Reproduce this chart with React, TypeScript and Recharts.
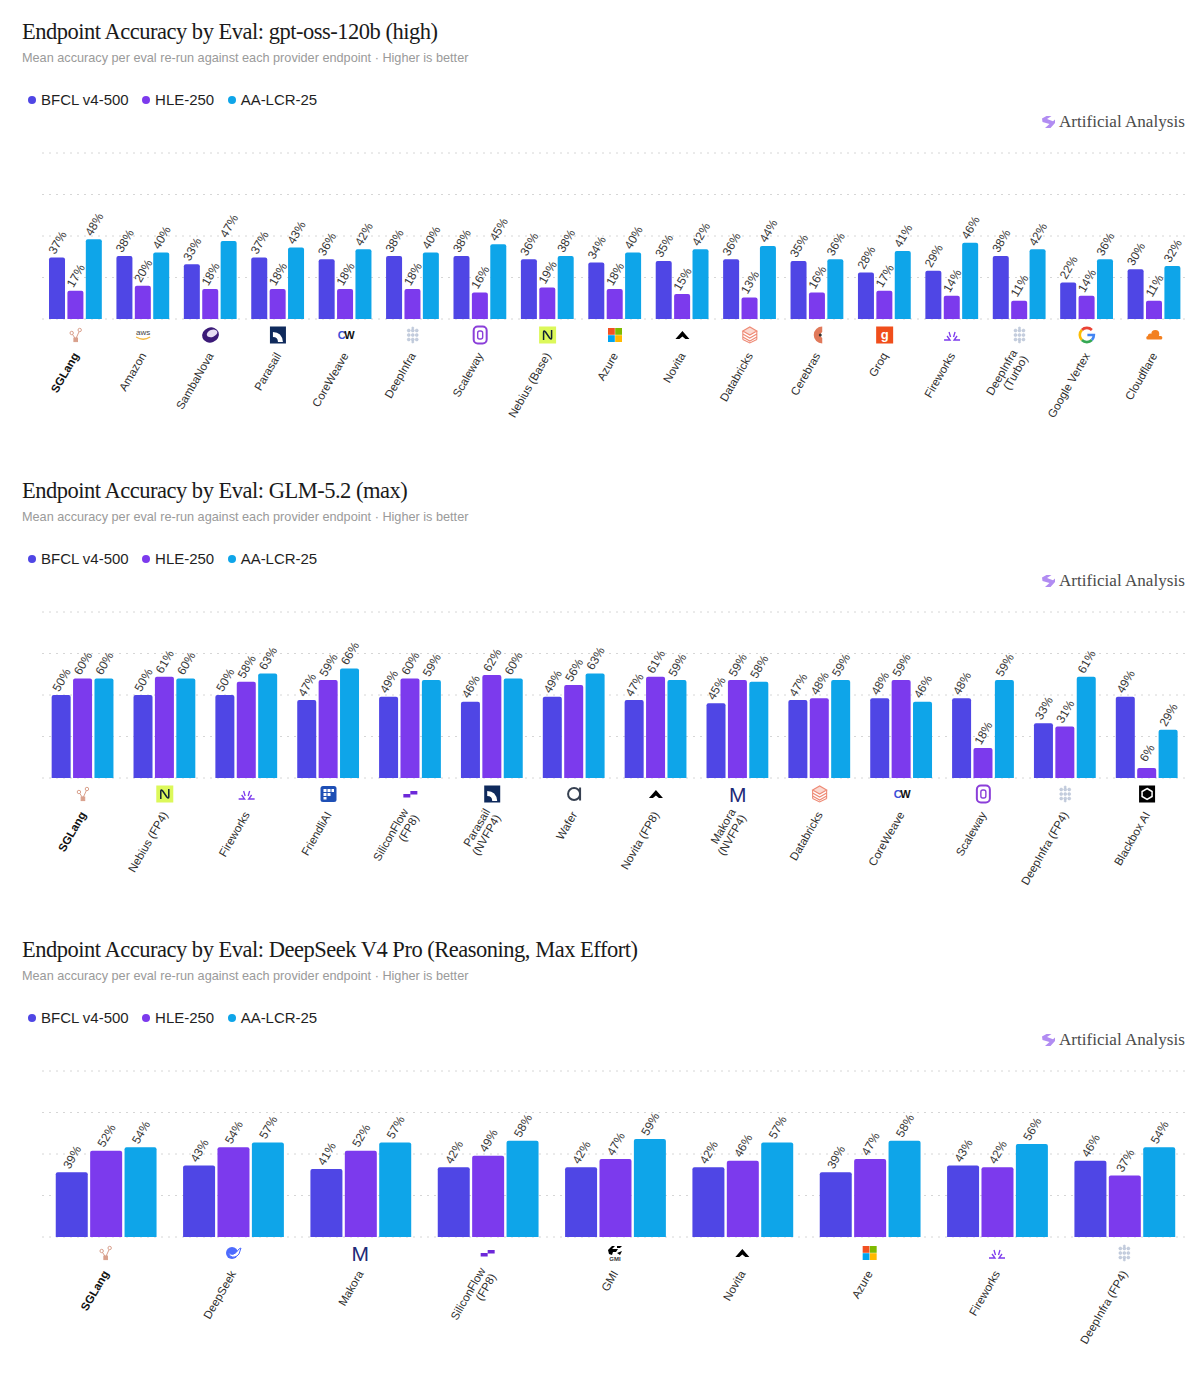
import React from "react";
import { BarChart, Bar, XAxis, YAxis, CartesianGrid, Legend, LabelList } from "recharts";

const seriesKeys = ["bfcl", "hle", "lcr"];
const seriesNames = ["BFCL v4-500", "HLE-250", "AA-LCR-25"];
const seriesColors = ["#4f46e5", "#7c3aed", "#0ea5e9"];
const yTicks = [0, 25, 50, 75, 100];

const gptTitle = "Endpoint Accuracy by Eval: gpt-oss-120b (high)";
const gptCategories = ["SGLang", "Amazon", "SambaNova", "Parasail", "CoreWeave", "DeepInfra", "Scaleway", "Nebius (Base)", "Azure", "Novita", "Databricks", "Cerebras", "Groq", "Fireworks", "DeepInfra\n(Turbo)", "Google Vertex", "Cloudflare"];
const gptLogos = ["sglang", "aws", "samba", "parasail", "coreweave", "deepinfra", "scaleway", "nebius", "azure", "novita", "databricks", "cerebras", "groq", "fireworks", "deepinfra", "google", "cloudflare"];
const gptBfcl = [37, 38, 33, 37, 36, 38, 38, 36, 34, 35, 36, 35, 28, 29, 38, 22, 30];
const gptHle = [17, 20, 18, 18, 18, 18, 16, 19, 18, 15, 13, 16, 17, 14, 11, 14, 11];
const gptLcr = [48, 40, 47, 43, 42, 40, 45, 38, 40, 42, 44, 36, 41, 46, 42, 36, 32];

const glmTitle = "Endpoint Accuracy by Eval: GLM-5.2 (max)";
const glmCategories = ["SGLang", "Nebius (FP4)", "Fireworks", "FriendliAI", "SiliconFlow\n(FP8)", "Parasail\n(NVFP4)", "Wafer", "Novita (FP8)", "Makora\n(NVFP4)", "Databricks", "CoreWeave", "Scaleway", "DeepInfra (FP4)", "Blackbox AI"];
const glmLogos = ["sglang", "nebius", "fireworks", "friendli", "silicon", "parasail", "wafer", "novita", "makora", "databricks", "coreweave", "scaleway", "deepinfra", "blackbox"];
const glmBfcl = [50, 50, 50, 47, 49, 46, 49, 47, 45, 47, 48, 48, 33, 49];
const glmHle = [60, 61, 58, 59, 60, 62, 56, 61, 59, 48, 59, 18, 31, 6];
const glmLcr = [60, 60, 63, 66, 59, 60, 63, 59, 58, 59, 46, 59, 61, 29];

const dsTitle = "Endpoint Accuracy by Eval: DeepSeek V4 Pro (Reasoning, Max Effort)";
const dsCategories = ["SGLang", "DeepSeek", "Makora", "SiliconFlow\n(FP8)", "GMI", "Novita", "Azure", "Fireworks", "DeepInfra (FP4)"];
const dsLogos = ["sglang", "deepseek", "makora", "silicon", "gmi", "novita", "azure", "fireworks", "deepinfra"];
const dsBfcl = [39, 43, 41, 42, 42, 42, 39, 43, 46];
const dsHle = [52, 54, 52, 49, 47, 46, 47, 42, 37];
const dsLcr = [54, 57, 57, 58, 59, 57, 58, 56, 54];

const SUBTITLE = "Mean accuracy per eval re-run against each provider endpoint · Higher is better";
const SANS = "'Liberation Sans', Arial, sans-serif";
const SERIF = "'Liberation Serif', serif";

function Logo({ kind }: { kind: string }) {
  switch (kind) {
    case "sglang":
      return (
        <g fill="none" stroke="#d9a08c" strokeWidth={1}>
          <circle cx={-4} cy={-2} r={1.7} />
          <circle cx={4} cy={-5} r={1.7} />
          <rect x={-1.8} y={3} width={3.6} height={3.6} fill="#d9a08c" />
          <path d="M-3.2 -0.6 L-0.8 3 M3.4 -3.4 L0.5 3" />
        </g>
      );
    case "aws":
      return (
        <g>
          <text x={0} y={0} textAnchor="middle" fontSize={8} fontWeight={400} fill="#444" fontFamily={SANS}>aws</text>
          <path d="M-7 2 Q0 6.5 7 2" stroke="#f5b942" strokeWidth={1.3} fill="none" />
        </g>
      );
    case "samba":
      return (
        <g>
          <ellipse cx={0} cy={0} rx={8.5} ry={7.5} fill="#3b1a78" transform="rotate(-20)" />
          <ellipse cx={2} cy={-1} rx={5.5} ry={3.5} fill="#e6ddf3" transform="rotate(-20)" />
        </g>
      );
    case "parasail":
      return (
        <g>
          <rect x={-8} y={-8.5} width={16} height={17} fill="#0f2a5c" />
          <path d="M-5 -3 Q4 -3 5 7 L0 7 Q0 2 -5 2 Z" fill="#fff" />
        </g>
      );
    case "coreweave":
      return (
        <text x={0} y={4} textAnchor="middle" fontSize={11} fontWeight={700} fontFamily={SANS} letterSpacing={-1.5}>
          <tspan fill="#3b4fd8">C</tspan>
          <tspan fill="#111">W</tspan>
        </text>
      );
    case "deepinfra":
      return (
        <g fill="#c6cfdf" stroke="#a9b6cc" strokeWidth={0.4}>
          {[-4, 0, 4].map((dx) => [-4.5, 0, 4.5].map((dy) => <circle key={dx + "_" + dy} cx={dx} cy={dy} r={1.5} />))}
          <circle cx={0} cy={-7} r={1.1} />
          <circle cx={0} cy={7} r={1.1} />
        </g>
      );
    case "scaleway":
      return (
        <g fill="none" stroke="#8b3fd9" strokeWidth={2}>
          <rect x={-6.5} y={-8.5} width={13} height={17} rx={4} />
          <rect x={-2.5} y={-4} width={5} height={8} rx={2} strokeWidth={1.4} />
        </g>
      );
    case "nebius":
      return (
        <g>
          <rect x={-8.5} y={-8.5} width={17} height={17} fill="#dcf85a" />
          <path d="M-4 5 L-4 -3 Q-4 -5 -2 -3 L2 3 Q4 5 4 3 L4 -5" stroke="#123" strokeWidth={1.5} fill="none" />
        </g>
      );
    case "azure":
      return (
        <g>
          <rect x={-7} y={-7} width={6.8} height={6.8} fill="#f25022" />
          <rect x={0.2} y={-7} width={6.8} height={6.8} fill="#7fba00" />
          <rect x={-7} y={0.2} width={6.8} height={6.8} fill="#00a4ef" />
          <rect x={0.2} y={0.2} width={6.8} height={6.8} fill="#ffb900" />
        </g>
      );
    case "novita":
      return <path d="M-7 4 L0 -4 L7 4 L3 4 L0 1.5 L-3 4 Z" fill="#000" />;
    case "databricks":
      return (
        <g fill="none" stroke="#ee8a75" strokeWidth={1.1}>
          <path d="M-7 -4 L0 -8 L7 -4 L0 0 Z" fill="#fbd9d1" />
          <path d="M-7 -1 L0 3 L7 -1 M-7 2 L0 6 L7 2 M-7 4.5 L0 8 L7 4.5 M-7 -4 V4.5 M7 -4 V4.5" />
        </g>
      );
    case "cerebras":
      return (
        <g>
          <path d="M5 -8.5 A8.5 8.5 0 1 0 5 8.5 L5 3 A3.5 3.5 0 0 1 5 -3 Z" fill="#e0795a" />
          <circle cx={3} cy={0} r={1.5} fill="#333" />
        </g>
      );
    case "groq":
      return (
        <g>
          <rect x={-8.5} y={-8.5} width={17} height={17} fill="#f04e1b" />
          <text x={0} y={3.5} textAnchor="middle" fontSize={13} fontWeight={700} fill="#fff" fontFamily={SANS}>g</text>
        </g>
      );
    case "fireworks":
      return <path d="M-8 5 H-2 L-5 1 M8 5 H2 L5 1 M-1.5 2 L-3 -3 M1.5 2 L3 -3" stroke="#7c3aed" strokeWidth={1.3} fill="none" />;
    case "google":
      return (
        <g fill="none" strokeWidth={2.6}>
          <path d="M5 -5 A7 7 0 0 0 -5 -5" stroke="#ea4335" />
          <path d="M-5 -5 A7 7 0 0 0 -5 5" stroke="#fbbc05" />
          <path d="M-5 5 A7 7 0 0 0 5 5" stroke="#34a853" />
          <path d="M5 5 A7 7 0 0 0 7 0 H0.5" stroke="#4285f4" />
        </g>
      );
    case "cloudflare":
      return (
        <g fill="#f38020">
          <circle cx={1} cy={-1} r={4} />
          <circle cx={-4} cy={1} r={2.5} />
          <rect x={-8} y={1} width={16} height={3.5} rx={1.5} />
        </g>
      );
    case "friendli":
      return (
        <g>
          <rect x={-8} y={-8} width={16} height={16} rx={2.5} fill="#1e4fb5" />
          <g fill="#fff">
            <rect x={-5} y={-5} width={3} height={3} />
            <rect x={-1} y={-5} width={3} height={3} />
            <rect x={3} y={-5} width={2.5} height={3} />
            <rect x={-5} y={-1} width={3} height={3} />
            <rect x={-1} y={-1} width={3} height={3} />
            <rect x={-5} y={3} width={3} height={2.5} />
          </g>
        </g>
      );
    case "silicon":
      return (
        <g fill="#6d28d9">
          <rect x={-7} y={0} width={7} height={3.5} />
          <rect x={0} y={-3} width={7} height={3.5} />
        </g>
      );
    case "wafer":
      return (
        <g>
          <circle cx={0} cy={0} r={6} fill="none" stroke="#374151" strokeWidth={2} />
          <path d="M6 -6.5 V6.5" stroke="#374151" strokeWidth={2} />
        </g>
      );
    case "makora":
      return <text x={0} y={7.5} textAnchor="middle" fontSize={21} fill="#1e2a78" fontFamily={SANS}>M</text>;
    case "blackbox":
      return (
        <g>
          <rect x={-8} y={-8.5} width={16} height={17} fill="#000" />
          <path d="M0 -5.5 L5 -2.5 V2.5 L0 5.5 L-5 2.5 V-2.5 Z" fill="none" stroke="#fff" strokeWidth={1.5} />
        </g>
      );
    case "deepseek":
      return (
        <g>
          <circle cx={-1} cy={0} r={6} fill="#4d6bfe" />
          <path d="M-5 -1 Q0 5 6 -4 L8 -5 L6 1 Q2 6 -3 3 Z" fill="#fff" stroke="#4d6bfe" strokeWidth={1} />
        </g>
      );
    case "gmi":
      return (
        <g>
          <path d="M-7 -3 L-3 -7 L0 -7 L-3 -4 L3 -4 L1 -1 L-2 -1 L-3 2 L-6 1 Z M2 -7 H7 L5 -5 H2 Z M2 0 L7 -2 L5 2 Z" fill="#000" />
          <text x={0} y={8} textAnchor="middle" fontSize={6} fontWeight={700} fill="#333" fontFamily={SANS}>GMI</text>
        </g>
      );
    default:
      return null;
  }
}

function ProviderTick(props: any) {
  const { x, y, payload, logos, categories } = props;
  const name: string = payload.value;
  const logo = logos[categories.indexOf(name)];
  const lines = name.split("\n");
  const bold = name === "SGLang";
  const lineGap = 12;
  return (
    <g>
      <g transform={`translate(${x},${y + 16})`}>
        <Logo kind={logo} />
      </g>
      <g transform={`translate(${x + 3.5},${y + 36.5}) rotate(-60)`}>
        {lines.map((line, i) => (
          <text
            key={line}
            x={0}
            y={(i - (lines.length - 1) / 2) * lineGap}
            textAnchor="end"
            fontSize={11.5}
            fontWeight={bold ? 700 : 400}
            fill={bold ? "#111" : "#2e2e2e"}
            fontFamily={SANS}
          >
            {line}
          </text>
        ))}
      </g>
    </g>
  );
}

function ValueLabel(props: any) {
  const { x, y, width, value } = props;
  const cx = x + width / 2 + 0.5;
  const cy = y - 15;
  return (
    <text
      x={cx}
      y={cy}
      textAnchor="middle"
      dominantBaseline="central"
      fontSize={12}
      fill="#383838"
      fontFamily={SANS}
      transform={`rotate(-60 ${cx} ${cy})`}
    >
      {`${value}%`}
    </text>
  );
}

function ChartLegend() {
  return (
    <div style={{ display: "flex", alignItems: "center", fontFamily: SANS, fontSize: 15, color: "#1f1f1f", whiteSpace: "nowrap", letterSpacing: -0.02 }}>
      {seriesNames.map((name, i) => (
        <span key={name} style={{ display: "inline-flex", alignItems: "center", marginRight: 13.5 }}>
          <span style={{ width: 8, height: 8, borderRadius: 4, background: seriesColors[i], marginRight: 5 }} />
          {name}
        </span>
      ))}
    </div>
  );
}

function BrandMark() {
  return (
    <div style={{ position: "absolute", left: 1041, top: 112, display: "flex", alignItems: "center", whiteSpace: "nowrap" }}>
      <svg width={15} height={14} viewBox="0 0 15 14" style={{ marginRight: 3 }}>
        <path d="M1 3.5 L5.5 1 H10.5 L6 4 L12 6.2 L14 4.5 V8 L9.5 13 H4 L8.5 9 L1.5 7 Z" fill="#b18cf2" />
      </svg>
      <span style={{ fontFamily: SERIF, fontSize: 17.1, color: "#4b4b4b" }}>Artificial Analysis</span>
    </div>
  );
}

function Section({ top, title, categories, logos, bfcl, hle, lcr, gap }: any) {
  const rows = categories.map((name: string, i: number) => ({ name, bfcl: bfcl[i], hle: hle[i], lcr: lcr[i] }));
  return (
    <div style={{ position: "absolute", left: 0, top, width: 1200, height: 459 }}>
      <BarChart
        width={1200}
        height={459}
        data={rows}
        margin={{ top: 153, right: 12, bottom: 0, left: 42 }}
        barCategoryGap={gap}
        barGap={2.4}
      >
        <CartesianGrid vertical={false} stroke="#d6d6d6" strokeDasharray="2 5" />
        <YAxis hide domain={[0, 100]} ticks={yTicks} />
        <XAxis
          dataKey="name"
          height={140}
          interval={0}
          axisLine={false}
          tickLine={false}
          tickSize={0}
          tickMargin={0}
          tick={(p: any) => <ProviderTick {...p} logos={logos} categories={categories} />}
        />
        <Legend
          layout="horizontal"
          align="center"
          verticalAlign="middle"
          wrapperStyle={{ position: "absolute", left: 28, top: 91, width: 400, height: 18 }}
          content={() => <ChartLegend />}
        />
        {seriesKeys.map((key, i) => (
          <Bar key={key} dataKey={key} name={seriesNames[i]} fill={seriesColors[i]} radius={[2, 2, 0, 0]} isAnimationActive={false}>
            <LabelList dataKey={key} content={(p: any) => <ValueLabel {...p} />} />
          </Bar>
        ))}
      </BarChart>
      <div style={{ position: "absolute", left: 22, top: 19, fontFamily: SERIF, fontSize: 22.5, letterSpacing: -0.49, color: "#1a1a1a", whiteSpace: "nowrap" }}>{title}</div>
      <div style={{ position: "absolute", left: 22, top: 51, fontFamily: SANS, fontSize: 12.7, color: "#9a9a9a", whiteSpace: "nowrap" }}>{SUBTITLE}</div>
      <BrandMark />
    </div>
  );
}

export default function App() {
  return (
    <div style={{ position: "absolute", left: 0, top: 0, width: 1200, height: 1378, background: "#fff", overflow: "hidden" }}>
      <Section top={0} title={gptTitle} categories={gptCategories} logos={gptLogos} bfcl={gptBfcl} hle={gptHle} lcr={gptLcr} gap="10.4%" />
      <Section top={459} title={glmTitle} categories={glmCategories} logos={glmLogos} bfcl={glmBfcl} hle={glmHle} lcr={glmLcr} gap="11.8%" />
      <Section top={918} title={dsTitle} categories={dsCategories} logos={dsLogos} bfcl={dsBfcl} hle={dsHle} lcr={dsLcr} gap="10.8%" />
    </div>
  );
}
